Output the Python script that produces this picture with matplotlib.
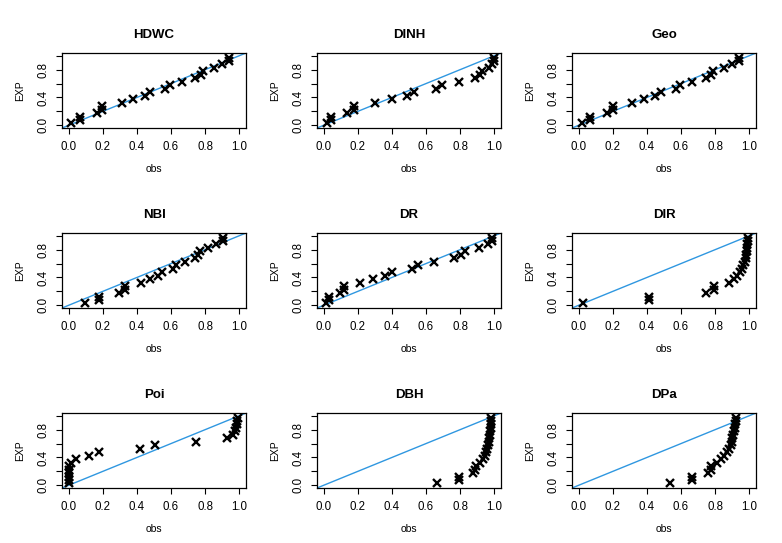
import numpy as np
import matplotlib
matplotlib.use("Agg")
import matplotlib.pyplot as plt

plt.rcParams["font.family"] = ["Liberation Sans", "DejaVu Sans"]

# expected probabilities (same for every panel)
exp_vals = [0.025, 0.075, 0.125, 0.175, 0.225, 0.275, 0.325, 0.375, 0.425, 0.475,
            0.525, 0.575, 0.625, 0.675, 0.725, 0.775, 0.825, 0.875, 0.925, 0.975]

# observed probabilities, per model
obs_hdwc = [0.015, 0.064, 0.064, 0.164, 0.197, 0.197, 0.311, 0.379, 0.449, 0.478,
            0.567, 0.594, 0.663, 0.743, 0.774, 0.787, 0.851, 0.899, 0.938, 0.940]
obs_dinh = [0.016, 0.045, 0.045, 0.138, 0.175, 0.175, 0.303, 0.398, 0.489, 0.532,
            0.658, 0.695, 0.792, 0.885, 0.915, 0.928, 0.967, 0.990, 0.996, 0.998]
obs_geo = [0.017, 0.064, 0.064, 0.164, 0.200, 0.200, 0.310, 0.380, 0.450, 0.480,
           0.570, 0.596, 0.665, 0.745, 0.774, 0.790, 0.850, 0.900, 0.940, 0.942]
obs_nbi = [0.097, 0.178, 0.178, 0.292, 0.327, 0.327, 0.422, 0.476, 0.526, 0.549,
           0.609, 0.629, 0.681, 0.739, 0.760, 0.768, 0.818, 0.865, 0.905, 0.907]
obs_dr = [0.012, 0.033, 0.033, 0.093, 0.120, 0.120, 0.214, 0.287, 0.361, 0.400,
          0.515, 0.550, 0.649, 0.765, 0.808, 0.831, 0.909, 0.963, 0.986, 0.990]
obs_dir = [0.027, 0.412, 0.412, 0.745, 0.795, 0.795, 0.880, 0.911, 0.930, 0.944,
           0.955, 0.965, 0.973, 0.979, 0.983, 0.986, 0.988, 0.990, 0.992, 0.993]
obs_poi = [0.000, 0.000, 0.000, 0.000, 0.001, 0.003, 0.013, 0.045, 0.120, 0.178,
           0.416, 0.503, 0.745, 0.927, 0.963, 0.973, 0.983, 0.988, 0.990, 0.991]
obs_dbh = [0.666, 0.796, 0.796, 0.874, 0.889, 0.893, 0.918, 0.932, 0.944, 0.951,
           0.957, 0.963, 0.967, 0.971, 0.973, 0.977, 0.979, 0.981, 0.982, 0.984]
obs_dpa = [0.534, 0.667, 0.667, 0.756, 0.776, 0.776, 0.814, 0.837, 0.853, 0.868,
           0.880, 0.892, 0.897, 0.901, 0.907, 0.911, 0.915, 0.919, 0.923, 0.925]

titles = ["HDWC", "DINH", "Geo", "NBI", "DR", "DIR", "Poi", "DBH", "DPa"]
obs_all = [obs_hdwc, obs_dinh, obs_geo, obs_nbi, obs_dr, obs_dir, obs_poi, obs_dbh, obs_dpa]

W, H = 782, 543
fig = plt.figure(figsize=(W / 100, H / 100), dpi=100)

lefts = [62, 317, 572]
tops = [53, 233, 413]
bw, bh = 184, 75

for k, (title, obs) in enumerate(zip(titles, obs_all)):
    r, c = divmod(k, 3)
    ax = fig.add_axes([lefts[c] / W, 1 - (tops[r] + bh) / H, bw / W, bh / H])
    ax.plot([-0.1, 1.1], [-0.1, 1.1], color="#2f97e0", lw=1.0, zorder=1)
    ax.plot(obs, exp_vals, linestyle="none", marker="x", color="black",
            markersize=5.5, markeredgewidth=1.7, zorder=2)
    ax.set_xlim(-0.04, 1.04)
    ax.set_ylim(-0.04, 1.04)
    ax.set_xticks([0.0, 0.2, 0.4, 0.6, 0.8, 1.0])
    ax.set_xticklabels(["0.0", "0.2", "0.4", "0.6", "0.8", "1.0"])
    ax.set_yticks([0.0, 0.2, 0.4, 0.6, 0.8, 1.0])
    ax.set_yticklabels(["0.0", "", "0.4", "", "0.8", ""], rotation=90, va="center")
    ax.tick_params(direction="out", length=4, width=0.8, labelsize=8.3, pad=5)
    for s in ax.spines.values():
        s.set_linewidth(0.9)
    ax.set_title(title, fontsize=9.5, fontweight="bold", pad=11)
    ax.set_xlabel("obs", fontsize=7.5)
    ax.set_ylabel("EXP", fontsize=7.5)
    ax.xaxis.set_label_coords(0.5, -0.48)
    ax.yaxis.set_label_coords(-0.2, 0.5)

fig.savefig("out.png", dpi=100)
